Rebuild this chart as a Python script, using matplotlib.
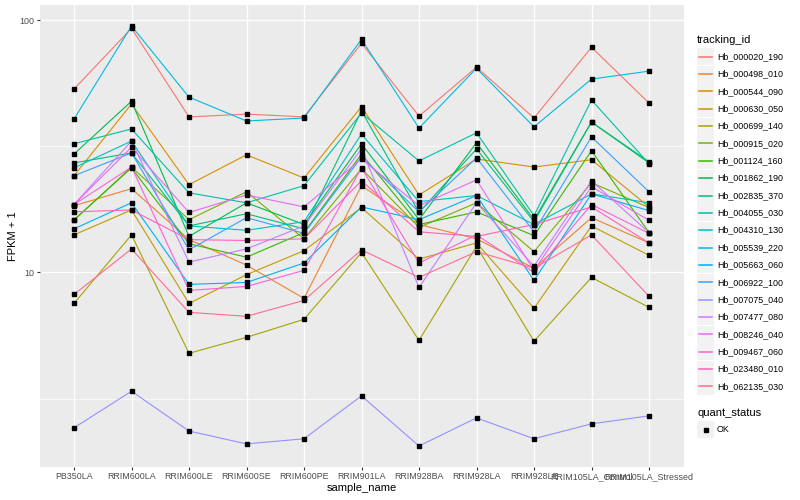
import matplotlib
matplotlib.use('Agg')
import matplotlib.pyplot as plt
from matplotlib.lines import Line2D
from matplotlib.patches import Rectangle
import numpy as np

plt.rcParams['font.family'] = ['Liberation Sans', 'DejaVu Sans']

# samples on the x axis
samples = ['PB350LA', 'RRIM600LA', 'RRIM600LE', 'RRIM600SE', 'RRIM600PE',
           'RRIM901LA', 'RRIM928BA', 'RRIM928LA', 'RRIM928LE',
           'RRIM105LA_Control', 'RRIM105LA_Stressed']

# FPKM + 1 per gene
hb_000020_190 = [53.4, 93.0, 41.4, 42.5, 41.4, 81.1, 41.7, 65.2, 41.0, 78.2, 47.0]
hb_000498_010 = [18.4, 21.5, 13.5, 10.7, 7.89, 22.1, 15.5, 13.6, 10.4, 16.5, 13.1]
hb_000544_090 = [24.2, 46.6, 22.3, 29.3, 23.7, 45.5, 20.3, 28.2, 26.2, 28.0, 18.2]
hb_000630_050 = [14.1, 17.7, 7.54, 9.8, 12.2, 18.1, 11.3, 13.1, 7.21, 15.3, 11.7]
hb_000699_140 = [7.54, 14.1, 4.78, 5.53, 6.52, 12.0, 5.38, 12.7, 5.34, 9.56, 7.27]
hb_000915_020 = [16.1, 26.2, 16.2, 20.9, 13.6, 25.8, 15.1, 18.9, 12.1, 22.7, 18.1]
hb_001124_160 = [16.2, 26.0, 13.0, 11.5, 14.4, 29.5, 15.5, 17.4, 14.0, 30.4, 14.4]
hb_001862_190 = [29.5, 47.8, 13.9, 18.9, 15.5, 32.4, 16.2, 32.7, 16.2, 39.5, 27.2]
hb_002835_370 = [27.2, 29.8, 15.3, 17.1, 14.9, 43.7, 17.3, 30.9, 15.9, 39.5, 27.5]
hb_004055_030 = [32.4, 37.1, 20.7, 18.9, 22.1, 42.9, 27.7, 35.8, 16.8, 48.3, 27.0]
hb_004310_130 = [26.0, 33.2, 15.3, 14.7, 15.9, 35.4, 19.1, 20.2, 15.5, 20.5, 18.9]
hb_005539_220 = [40.6, 95.0, 49.6, 39.9, 41.0, 84.1, 37.4, 64.6, 37.8, 58.5, 62.9]
hb_005663_060 = [14.9, 18.9, 8.97, 9.13, 10.9, 18.2, 16.2, 20.2, 9.30, 20.5, 17.6]
hb_006922_100 = [24.2, 29.8, 12.3, 16.5, 14.3, 28.7, 17.4, 28.5, 14.5, 34.5, 20.9]
hb_007075_040 = [2.42, 3.38, 2.35, 2.09, 2.19, 3.24, 2.05, 2.65, 2.19, 2.51, 2.70]
hb_007477_080 = [18.6, 33.2, 11.0, 12.4, 15.3, 30.9, 8.72, 18.9, 10.6, 23.1, 14.4]
hb_008246_040 = [18.6, 31.4, 17.3, 20.3, 18.2, 28.2, 18.4, 23.3, 10.2, 21.9, 16.1]
hb_009467_060 = [18.6, 26.2, 8.49, 8.80, 10.2, 26.0, 10.9, 14.1, 10.0, 18.6, 14.3]
hb_023480_010 = [17.4, 17.7, 13.5, 13.4, 13.6, 23.1, 14.5, 13.9, 15.5, 18.2, 13.1]
hb_062135_030 = [8.18, 12.4, 6.95, 6.70, 7.75, 12.3, 9.56, 12.1, 10.4, 14.1, 8.04]

tracking_ids = ['Hb_000020_190', 'Hb_000498_010', 'Hb_000544_090', 'Hb_000630_050',
                'Hb_000699_140', 'Hb_000915_020', 'Hb_001124_160', 'Hb_001862_190',
                'Hb_002835_370', 'Hb_004055_030', 'Hb_004310_130', 'Hb_005539_220',
                'Hb_005663_060', 'Hb_006922_100', 'Hb_007075_040', 'Hb_007477_080',
                'Hb_008246_040', 'Hb_009467_060', 'Hb_023480_010', 'Hb_062135_030']
series = [hb_000020_190, hb_000498_010, hb_000544_090, hb_000630_050, hb_000699_140,
          hb_000915_020, hb_001124_160, hb_001862_190, hb_002835_370, hb_004055_030,
          hb_004310_130, hb_005539_220, hb_005663_060, hb_006922_100, hb_007075_040,
          hb_007477_080, hb_008246_040, hb_009467_060, hb_023480_010, hb_062135_030]

# ggplot default hue palette for 20 levels
colors = ['#F8766D', '#EA8331', '#D89000', '#C09B00', '#A3A500', '#7CAE00', '#39B600',
          '#00BB4E', '#00BF7D', '#00C1A3', '#00BFC4', '#00BAE0', '#00B0F6', '#35A2FF',
          '#9590FF', '#C77CFF', '#E76BF3', '#FA62DB', '#FF62BC', '#FF6C91']

W, H = 800, 500
fig = plt.figure(figsize=(8, 5), dpi=100)
ax = fig.add_axes([39.5 / W, 1 - 467 / H, (683.5 - 39.5) / W, (467 - 5) / H])
ax.set_facecolor('#EBEBEB')
for s in ax.spines.values():
    s.set_visible(False)

x = np.arange(len(samples))
for vals, c in zip(series, colors):
    ax.plot(x, vals, color=c, lw=0.8, zorder=2)
for vals in series:
    ax.plot(x, vals, ls='none', marker='s', ms=2.4, color='black', zorder=3)

ax.set_yscale('log')
allv = np.log10(np.concatenate([np.array(v) for v in series]))
lo, hi = allv.min(), allv.max()
pad = 0.05 * (hi - lo)
ax.set_ylim(10 ** (lo - pad), 10 ** (hi + pad))
ax.set_xlim(-0.6, len(samples) - 0.4)

ax.set_yticks([10, 100])
ax.set_yticklabels(['10', '100'])
ax.set_yticks([10 ** 0.5, 10 ** 1.5], minor=True)
ax.yaxis.set_minor_formatter(plt.NullFormatter())
ax.set_xticks(x)
ax.set_xticklabels(samples)

ax.grid(which='major', color='white', lw=1.0, zorder=0)
ax.grid(which='minor', axis='y', color='white', lw=0.5, zorder=0)
ax.set_axisbelow(True)
ax.tick_params(which='major', length=2.2, width=0.8, color='#333333',
               labelsize=6.4, labelcolor='#4D4D4D', pad=1.5)
ax.tick_params(which='minor', length=0)

ax.set_xlabel('sample_name', fontsize=8, labelpad=1)
ax.set_ylabel('FPKM + 1', fontsize=8, labelpad=1)


def px(xp, yp):
    return xp / W, 1 - yp / H


# legend: tracking_id
fig.text(*px(697, 40), 'tracking_id', fontsize=8, va='center', ha='left')
for i, (name, c) in enumerate(zip(tracking_ids, colors)):
    yc = 56.7 + i * 17.35
    bx, by = px(697, yc + 8.5)
    fig.add_artist(Rectangle((bx, by), 17 / W, 17 / H, transform=fig.transFigure,
                             facecolor='#F2F2F2', edgecolor='none'))
    x0, y0 = px(699, yc)
    x1, _ = px(712, yc)
    fig.add_artist(Line2D([x0, x1], [y0, y0], transform=fig.transFigure, color=c, lw=1.1))
    fig.text(*px(717, yc), name, fontsize=6.4, va='center', ha='left')

# legend: quant_status
fig.text(*px(697, 413), 'quant_status', fontsize=8, va='center', ha='left')
bx, by = px(697, 429.5 + 8.5)
fig.add_artist(Rectangle((bx, by), 17 / W, 17 / H, transform=fig.transFigure,
                         facecolor='#F2F2F2', edgecolor='none'))
mx, my = px(705.5, 429.5)
fig.add_artist(Line2D([mx], [my], transform=fig.transFigure, ls='none', marker='s',
                      ms=2.4, color='black'))
fig.text(*px(717, 429.5), 'OK', fontsize=6.4, va='center', ha='left')

fig.savefig('out.png', dpi=100)
